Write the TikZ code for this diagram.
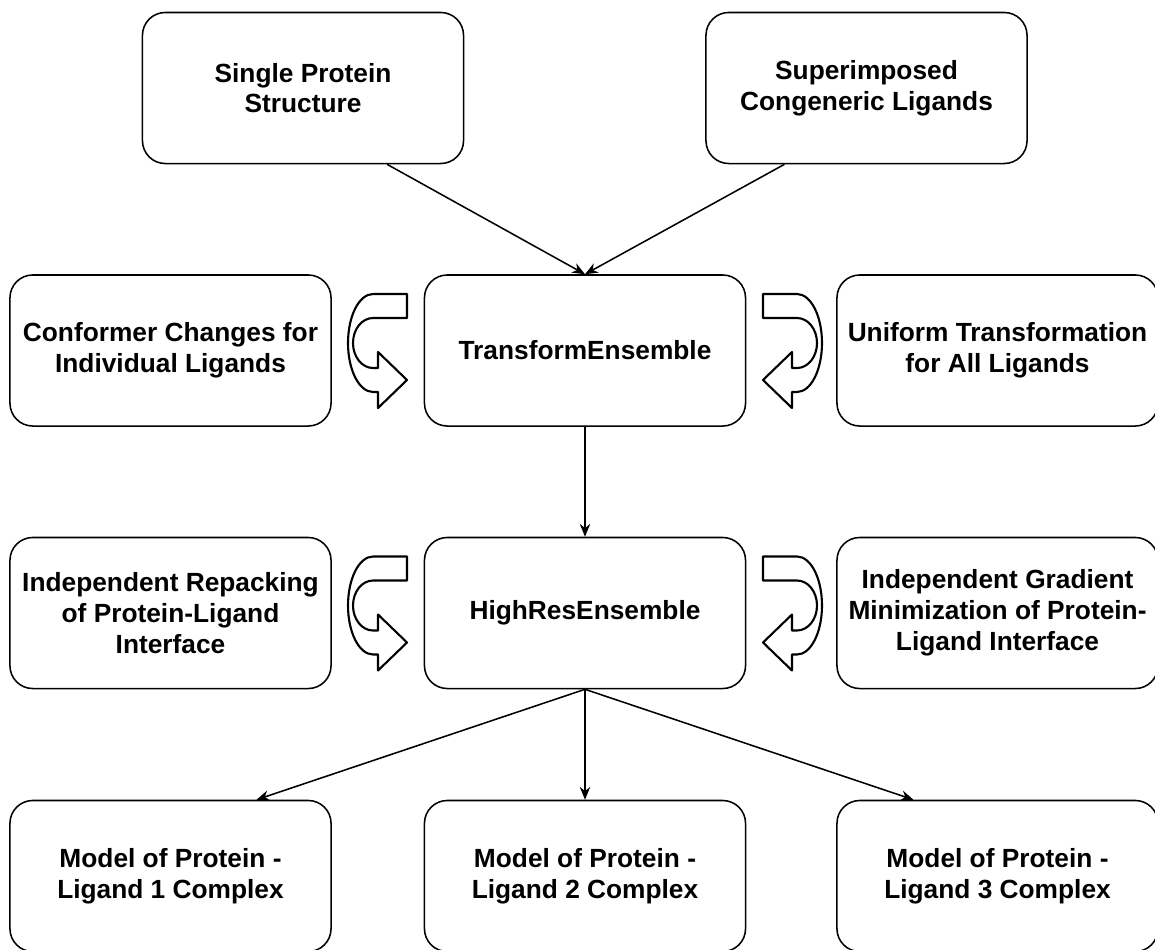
\documentclass[tikz,border=0pt]{standalone}
\usepackage{fontspec}
\setmainfont{Liberation Sans}
\usetikzlibrary{arrows.meta}
\begin{document}
\begin{tikzpicture}[x=0.025cm,y=-0.025cm,>={Stealth[length=0.32cm,width=0.26cm]}, line join=round, line width=1.1pt,
	font=\fontsize{18.7}{21.9}\selectfont\bfseries,
	box/.style={draw,rounded corners=0.57cm,minimum width=8.025cm,minimum height=3.775cm,align=center},
	uturn/.pic={\draw[line width=1.5pt] (0,-86)--(-34,-86) arc[start angle=270,end angle=90,x radius=25,y radius=49]
		--(-29,12)--(-29,28)--(0,0)--(-29,-28)--(-29,-12)--(-34,-12)
		arc[start angle=90,end angle=270,x radius=20,y radius=25]--(0,-62)--cycle;}]
	\def\rowa{88} \def\rowb{350.5} \def\rowc{613} \def\rowd{876}
	\def\colL{170.5} \def\colM{585} \def\colR{997.5}
	\useasboundingbox (0,0) rectangle (1155,949);
	% inputs
	\node[box] (single) at (303,\rowa) {Single Protein\\Structure};
	\node[box] (super) at (866.5,\rowa) {Superimposed\\Congeneric Ligands};
	% movers
	\node[box] (conformer) at (\colL,\rowb) {Conformer Changes for\\Individual Ligands};
	\node[box] (transform) at (\colM,\rowb) {TransformEnsemble};
	\node[box] (uniform) at (\colR,\rowb) {Uniform Transformation\\for All Ligands};
	\node[box] (repack) at (\colL,\rowc) {Independent Repacking\\of Protein-Ligand\\Interface};
	\node[box] (highres) at (\colM,\rowc) {HighResEnsemble};
	\node[box] (gradmin) at (\colR,\rowc) {Independent Gradient\\Minimization of Protein-\\Ligand Interface};
	% outputs
	\node[box] (model1) at (\colL,\rowd) {Model of Protein -\\Ligand 1 Complex};
	\node[box] (model2) at (\colM,\rowd) {Model of Protein -\\Ligand 2 Complex};
	\node[box] (model3) at (\colR,\rowd) {Model of Protein -\\Ligand 3 Complex};
	\draw[->] ([xshift=2.1cm]single.south)--(transform.north);
	\draw[->] ([xshift=-2.05cm]super.south)--(transform.north);
	\draw[->] (transform)--(highres);
	\draw[->] (highres.south)--([xshift=2.15cm]model1.north);
	\draw[->] (highres.south)--(model2.north);
	\draw[->] (highres.south)--([xshift=-2.1cm]model3.north);
	% u-turn arrows
	\pic at (407,\rowb+29.5) {uturn};
	\pic[xscale=-1] at (763,\rowb+29.5) {uturn};
	\pic at (407,\rowc+29.5) {uturn};
	\pic[xscale=-1] at (763,\rowc+29.5) {uturn};
\end{tikzpicture}
\end{document}
